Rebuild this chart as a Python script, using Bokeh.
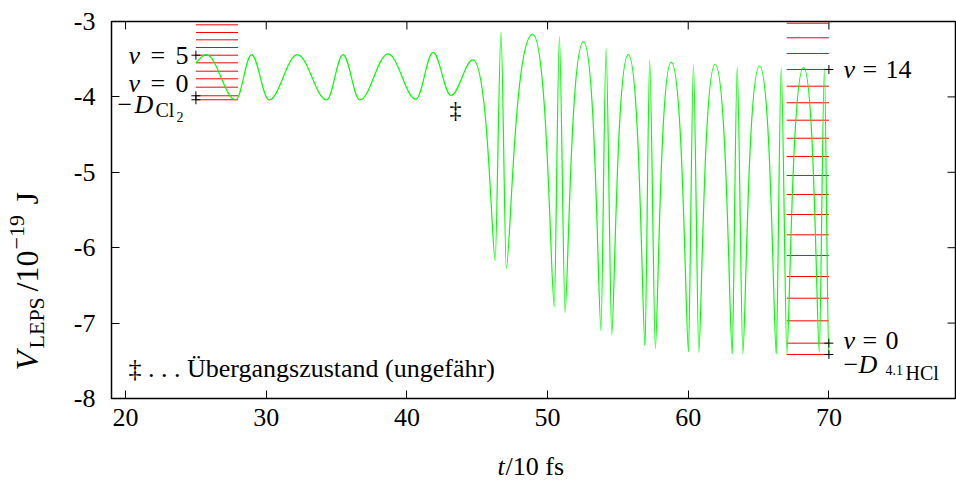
import numpy as np
from bokeh.plotting import figure
from bokeh.layouts import row, column
from bokeh.models import Range1d, ColumnDataSource, FixedTicker
from bokeh.core.properties import value
from bokeh.embed import file_html
from bokeh.resources import INLINE

# ---------------- data ----------------
# extrema of V_LEPS(t); t in 10 fs, V in 1e-19 J
t_ext = [25.00, 25.74, 27.83, 28.96, 30.20, 32.21, 34.30, 35.46, 36.65, 38.66,
         40.64, 41.86, 43.13, 44.69, 46.28, 46.69, 47.06, 48.94, 50.48, 50.84,
         51.24, 52.55, 53.80, 54.16, 54.56, 55.74, 56.93, 57.26, 57.66, 58.79,
         60.02, 60.37, 60.75, 61.91, 63.13, 63.48, 63.88, 65.07, 66.26, 66.61,
         67.01, 68.20, 69.32, 69.68, 69.98]
v_ext = [-3.55, -3.44, -4.04, -3.44, -4.04, -3.44, -4.04, -3.44, -4.04, -3.43,
         -4.03, -3.41, -3.98, -3.51, -6.17, -3.14, -6.28, -3.17, -6.79, -3.20,
         -6.86, -3.27, -7.10, -3.36, -7.16, -3.44, -7.30, -3.51, -7.34, -3.54,
         -7.38, -3.57, -7.39, -3.57, -7.41, -3.60, -7.41, -3.59, -7.41, -3.61,
         -7.41, -3.61, -7.39, -3.62, -7.40]

# vibrational levels (first entry: -D)
cl2_levels = [-4.038, -3.985, -3.871, -3.760, -3.659, -3.548, -3.447,
              -3.345, -3.243, -3.146, -3.044]
hcl_levels = [-7.416, -7.266, -6.970, -6.670, -6.382, -6.103, -5.829, -5.560,
              -5.294, -5.042, -4.790, -4.548, -4.309, -4.078, -3.858, -3.637,
              -3.424, -3.216, -3.023]
cl2_span = [25.0, 28.0]
hcl_span = [67.0, 70.0]

mark_t = [25.0, 25.0, 25.0, 70.0, 70.0, 70.0]
mark_v = [-3.447, -3.985, -4.038, -3.637, -7.266, -7.416]

ts_t = [43.45]
ts_v = [-4.18]

x_ticks = [20, 30, 40, 50, 60, 70]
x_tick_labels = ["20", "30", "40", "50", "60", "70"]
y_ticks = [-8, -7, -6, -5, -4, -3]
y_tick_labels = ["-8", "-7", "-6", "-5", "-4", "-3"]

# ---------------- layout ----------------
W, H = 956, 488
YL_W = 60            # strip holding the y title
XL_H = 45            # strip holding the x title
FL, FR, FT, FB = 111, 955, 21, 398   # frame edges on the page
X0, X1, Y0, Y1 = 19.0, 79.0, -8.0, -3.0
FONT = "Liberation Serif"
TICK = 8
BASE = 0.32          # raise of the alphabetic baseline, in em


def dxp(px):
    return X0 + (px - FL) * (X1 - X0) / (FR - FL)


def dyp(py):
    return Y1 - (py - FT) * (Y1 - Y0) / (FB - FT)


MW = W - YL_W
MH = H - XL_H
p = figure(width=MW, height=MH, x_range=Range1d(X0, X1), y_range=Range1d(Y0, Y1),
           output_backend="svg", toolbar_location=None,
           min_border_left=FL - YL_W, min_border_right=W - FR, min_border_top=FT,
           min_border_bottom=MH - FB)
p.background_fill_color = "white"
p.border_fill_color = "white"
p.outline_line_color = "black"
p.outline_line_width = 1.5
p.xgrid.visible = False
p.ygrid.visible = False

for ax, ticks, labels in ((p.xaxis[0], x_ticks, x_tick_labels),
                          (p.yaxis[0], y_ticks, y_tick_labels)):
    ax.ticker = FixedTicker(ticks=ticks)
    ax.major_label_overrides = {t: l for t, l in zip(ticks, labels)}
    ax.major_tick_in = TICK
    ax.major_tick_out = 0
    ax.minor_tick_line_color = None
    ax.axis_line_color = None
    ax.major_tick_line_color = "black"
    ax.major_label_text_font = FONT
    ax.major_label_text_font_size = "26px"
    ax.major_label_text_color = "black"
p.xaxis[0].major_label_standoff = 10
p.yaxis[0].major_label_standoff = 16

# mirrored ticks on the right and top edges
tick_dx = TICK * (X1 - X0) / (FR - FL)
tick_dy = TICK * (Y1 - Y0) / (FB - FT)
p.segment(x0=[X1] * len(y_ticks), y0=y_ticks, x1=[X1 - tick_dx] * len(y_ticks),
          y1=y_ticks, line_color="black", line_width=1)
p.segment(x0=x_ticks, y0=[Y1] * len(x_ticks), x1=x_ticks,
          y1=[Y1 - tick_dy] * len(x_ticks), line_color="black", line_width=1)

# red level ladders
lad_x0 = [cl2_span[0]] * len(cl2_levels) + [hcl_span[0]] * len(hcl_levels)
lad_x1 = [cl2_span[1]] * len(cl2_levels) + [hcl_span[1]] * len(hcl_levels)
lad_y = cl2_levels + hcl_levels
p.segment(x0=lad_x0, y0=lad_y, x1=lad_x1, y1=lad_y, line_color="#ff0000", line_width=1)

# green curve: smooth half-waves between successive extrema
x0s, y0s, x1s, y1s, cx0s, cy0s, cx1s, cy1s = ([] for _ in range(8))
for i in range(len(t_ext) - 1):
    a, b = t_ext[i], t_ext[i + 1]
    ya, yb = v_ext[i], v_ext[i + 1]
    d = b - a
    deep = abs(yb - ya) > 1.5

    def hold(y_this, y_other):
        if not deep:
            return 0.36
        if y_this > y_other:                 # peak end
            return 0.70 if d > 0.8 else 0.30
        return 0.15 if d > 0.8 else 0.25     # trough end

    ha, hb = hold(ya, yb), hold(yb, ya)
    c0y = ya + 0.45 * (yb - ya) if i == 0 else ya
    x0s.append(a); y0s.append(ya); x1s.append(b); y1s.append(yb)
    cx0s.append(a + ha * d); cy0s.append(c0y)
    cx1s.append(b - hb * d); cy1s.append(yb)
src = ColumnDataSource(dict(x0=x0s, y0=y0s, x1=x1s, y1=y1s,
                            cx0=cx0s, cy0=cy0s, cx1=cx1s, cy1=cy1s))
p.bezier(x0="x0", y0="y0", x1="x1", y1="y1", cx0="cx0", cy0="cy0",
         cx1="cx1", cy1="cy1", source=src, line_color="#00ff00", line_width=1.2)

p.scatter(mark_t, mark_v, marker="cross", size=9, line_color="black", line_width=1)


# ---------------- texts ----------------
def put(fig, x, y, text, size, style="normal", align="left", angle=0.0):
    fig.text(x=[x], y=[y], text=[text], text_font=value(FONT),
             text_font_size=value(f"{size}px"), text_font_style=style,
             text_color="black", text_align=align, text_baseline="alphabetic",
             angle=angle)


def put_main(px, py, text, size, style="normal"):
    """px, py: page position of the start of the baseline"""
    put(p, dxp(px), dyp(py - BASE * size), text, size, style)


M = 26
# Cl2 side
put_main(128, 63, "v", M, "italic"); put_main(150, 63, "=", M); put_main(175, 63, "5", M)
put_main(128, 91, "v", M, "italic"); put_main(150, 91, "=", M); put_main(175, 91, "0", M)
put_main(117, 112, "−", M); put_main(134, 112, "D", M, "italic")
put_main(155, 116, "Cl", 20); put_main(176, 121, "2", 14)
# HCl side
put_main(843, 77, "v", M, "italic"); put_main(862, 77, "=", M); put_main(885, 77, "14", M)
put_main(843, 348, "v", M, "italic"); put_main(862, 348, "=", M); put_main(885, 348, "0", M)
put_main(843, 372, "−", M); put_main(858, 372, "D", M, "italic")
put_main(885, 374, "4.1", 14); put_main(905, 379, "HCl", 20)
# transition-state marks and note
p.text(x=ts_t, y=ts_v, text=["‡"] * len(ts_t), text_font=value(FONT),
       text_font_size=value("24px"), text_color="black", text_align="center",
       text_baseline="middle")
put_main(128, 376, "‡ . . . Übergangszustand (ungefähr)", M)


def strip(w, h, xr, yr):
    f = figure(width=w, height=h, x_range=Range1d(*xr), y_range=Range1d(*yr),
               output_backend="svg", toolbar_location=None, min_border=0,
               min_border_left=0, min_border_right=0, min_border_top=0,
               min_border_bottom=0, x_axis_location=None, y_axis_location=None)
    f.outline_line_color = None
    f.xgrid.visible = False
    f.ygrid.visible = False
    f.background_fill_color = "white"
    f.border_fill_color = "white"
    return f


# x title strip: its frame is aligned with the main frame (page x FL..FR)
xf = strip(MW, XL_H, (FL, FR), (0, XL_H))
put(xf, 497, H - (474 - BASE * M), "t", M, "italic")
put(xf, 505, H - (474 - BASE * M), "/10 fs", M)

# y title strip, rotated text reading upward; bx = baseline x on the page
yf = strip(YL_W, H, (0, YL_W), (0, H))
R = np.pi / 2
YS, YB = 32, 22


def put_rot(bx, py, text, size, style="normal"):
    put(yf, bx - BASE * size, H - py, text, size, style, angle=R)


BX = 37
put_rot(BX, 370, "V", YS, "italic")
put_rot(BX + 6, 348, "LEPS", YB)
put_rot(BX, 291, "/10", YS)
put_rot(BX - 13, 249, "−19", YB)
put_rot(BX, 204, "J", YS)

layout = row(yf, column(p, xf))
open("out.html", "w").write(file_html(layout, INLINE))
